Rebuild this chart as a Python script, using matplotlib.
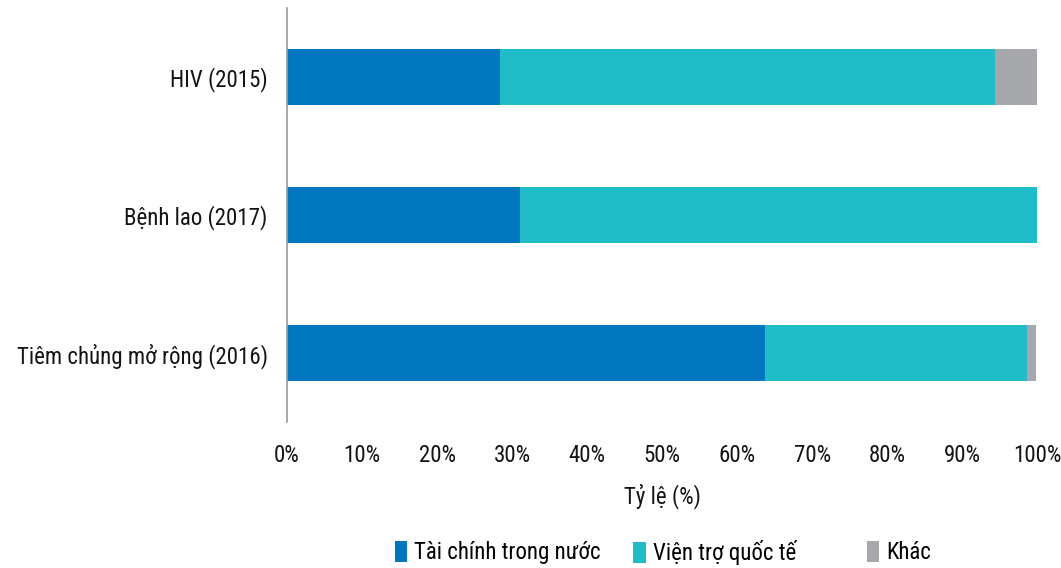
import matplotlib

matplotlib.use("Agg")
import matplotlib.pyplot as plt
from matplotlib.patches import Patch
from matplotlib import font_manager

# Funding structure by programme, share of total (%)
programmes = ["HIV (2015)", "Bệnh lao (2017)", "Tiêm chủng mở rộng (2016)"]
domestic = [28.4, 31.0, 63.7]
international = [66.0, 69.0, 35.0]
other = [5.6, 0.0, 1.1]

series_names = ["Tài chính trong nước", "Viện trợ quốc tế", "Khác"]
x_ticks = [0, 10, 20, 30, 40, 50, 60, 70, 80, 90, 100]

COLORS = ["#0077be", "#20bdc9", "#a7a8ab"]
LEGEND_X = [0.372, 0.597, 0.817]
TEXT = "#141414"
FS = 16.5

installed = {f.name for f in font_manager.fontManager.ttflist}
family = [f for f in ["Roboto Condensed", "Liberation Sans Narrow", "DejaVu Sans Condensed"] if f in installed]
plt.rcParams["font.family"] = family + ["DejaVu Sans"]

fig = plt.figure(figsize=(10.61, 5.68), dpi=100)
ax = fig.add_axes([0.2705, 0.257, 0.707, 0.729])

ypos = list(range(len(programmes)))
left = [0.0] * len(programmes)
for values, color in zip([domestic, international, other], COLORS):
    ax.barh(ypos, values, left=left, height=0.41, color=color, edgecolor="none")
    left = [a + b for a, b in zip(left, values)]

ax.set_ylim(len(programmes) - 0.5, -0.5)
ax.set_xlim(0, 100)
ax.set_yticks(ypos)
ax.set_yticklabels(programmes, fontsize=FS, color=TEXT)
ax.set_xticks(x_ticks)
ax.set_xticklabels([f"{t}%" for t in x_ticks], fontsize=FS, color=TEXT)
ax.tick_params(axis="both", length=0)
ax.tick_params(axis="x", pad=16)
ax.tick_params(axis="y", pad=14)
ax.set_xlabel("Tỷ lệ (%)", fontsize=FS, color=TEXT, labelpad=12)

for side in ["top", "right", "bottom"]:
    ax.spines[side].set_visible(False)
ax.spines["left"].set_color("#9a9a9a")
ax.spines["left"].set_linewidth(1.2)

# one legend entry per series, spaced unevenly along the bottom
for name, color, x in zip(series_names, COLORS, LEGEND_X):
    fig.legend(
        [Patch(facecolor=color, edgecolor="none")],
        [name],
        loc="center left",
        bbox_to_anchor=(x, 0.027),
        frameon=False,
        fontsize=FS,
        handlelength=0.55,
        handleheight=1.0,
        handletextpad=0.3,
        borderpad=0,
        borderaxespad=0,
    )

fig.savefig("out.png", dpi=100, facecolor="white")
